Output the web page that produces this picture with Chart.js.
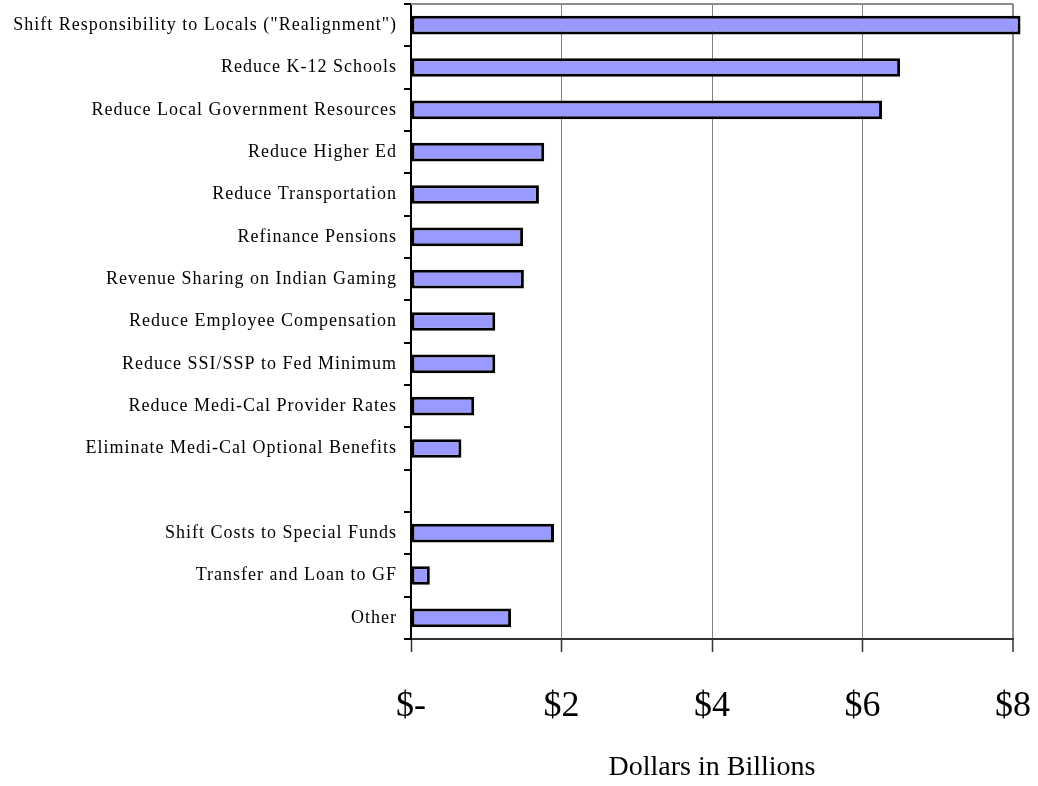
<!DOCTYPE html>
<html><head><meta charset="utf-8">
<script src="https://cdn.jsdelivr.net/npm/chart.js@4"></script>
<style>html,body{margin:0;padding:0;background:#fff}canvas{display:block}</style>
</head><body>
<canvas id="c" width="1038" height="786"></canvas>
<script>
const categories = ['Shift Responsibility to Locals ("Realignment")','Reduce K-12 Schools','Reduce Local Government Resources','Reduce Higher Ed','Reduce Transportation','Refinance Pensions','Revenue Sharing on Indian Gaming','Reduce Employee Compensation','Reduce SSI/SSP to Fed Minimum','Reduce Medi-Cal Provider Rates','Eliminate Medi-Cal Optional Benefits','','Shift Costs to Special Funds','Transfer and Loan to GF','Other'];
const values = [8.1, 6.5, 6.26, 1.77, 1.70, 1.49, 1.50, 1.12, 1.12, 0.84, 0.67, null, 1.90, 0.25, 1.33];
const tickLabels = ['$-','$2','$4','$6','$8'];
const axisTitle = 'Dollars in Billions';

const FONT = "'Liberation Serif','Times New Roman',serif";

const framePlugin = {
  id: 'frame',
  afterLayout(chart) {
    const y = chart.scales.y;
    if (y && !y._lsPatched) {
      const orig = Object.getPrototypeOf(y).drawLabels;
      y.drawLabels = function (area) {
        const ctx = this.ctx;
        const prev = ctx.letterSpacing;
        ctx.letterSpacing = '1px';
        orig.call(this, area);
        ctx.letterSpacing = prev || '0px';
      };
      y._lsPatched = true;
    }
  },
  afterDraw(chart) {
    const {ctx, chartArea: a} = chart;
    ctx.save();
    ctx.strokeStyle = '#8c8c8c';
    ctx.lineWidth = 2;
    ctx.beginPath();
    ctx.moveTo(a.left, a.top);
    ctx.lineTo(a.right, a.top);
    ctx.stroke();
    ctx.restore();
  }
};

new Chart(document.getElementById('c'), {
  type: 'bar',
  data: {
    labels: categories,
    datasets: [{
      data: values,
      backgroundColor: '#9999ff',
      borderColor: '#000000',
      borderWidth: 3,
      borderSkipped: false,
      categoryPercentage: 0.88,
      barPercentage: 0.5,
      clip: false
    }]
  },
  options: {
    indexAxis: 'y',
    responsive: false,
    animation: false,
    events: [],
    layout: { padding: { left: 0, right: 25, top: 4, bottom: 0 } },
    plugins: { legend: { display: false }, tooltip: { enabled: false } },
    scales: {
      x: {
        min: 0, max: 8,
        afterFit(s) { s.height = 147; s.paddingLeft = 0; s.paddingRight = 0; },
        ticks: {
          stepSize: 2,
          padding: 33,
          color: '#000',
          font: { family: FONT, size: 36 },
          callback: (v) => tickLabels[Math.round(v / 2)]
        },
        grid: {
          color: (c) => c.tick && c.tick.value === 8 ? '#8c8c8c' : '#808080',
          lineWidth: (c) => c.tick && c.tick.value === 8 ? 2 : 1,
          tickColor: '#333',
          tickLength: 13,
          tickWidth: 1.5
        },
        border: { color: '#333', width: 2 },
        title: {
          display: true,
          text: axisTitle,
          color: '#000',
          font: { family: FONT, size: 28 },
          padding: { top: 0, bottom: 2 }
        }
      },
      y: {
        afterFit(s) { s.width = 411; s.paddingTop = 0; s.paddingBottom = 0; },
        ticks: {
          padding: 7,
          color: '#000',
          font: { family: FONT, size: 18 },
          autoSkip: false
        },
        grid: {
          drawOnChartArea: false,
          tickColor: '#000',
          tickLength: 7,
          lineWidth: 2
        },
        border: { color: '#000', width: 2 }
      }
    }
  },
  plugins: [framePlugin]
});
</script>
</body></html>
